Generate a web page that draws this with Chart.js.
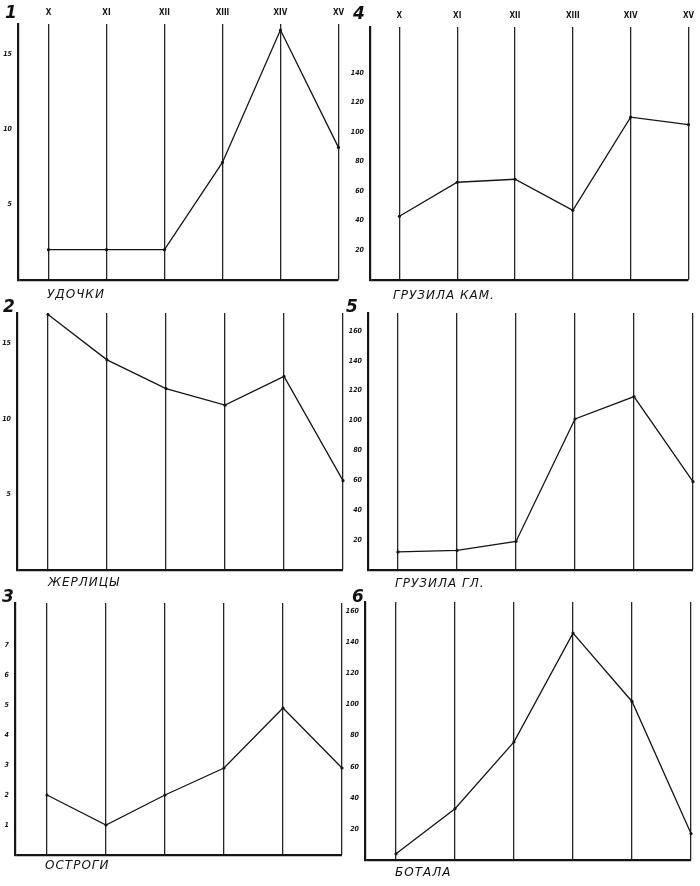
<!DOCTYPE html>
<html lang="ru">
<head>
<meta charset="utf-8">
<script src="https://cdn.jsdelivr.net/npm/chart.js@4.4.0/dist/chart.umd.min.js"></script>
<style>
  body { margin: 0; background: #fff; }
  #page { position: relative; width: 700px; height: 886px; overflow: hidden; background: #fff; }
  .box { position: absolute; }
  .lbl { position: absolute; font-family: "DejaVu Sans", sans-serif; font-style: italic; font-size: 12px;
         letter-spacing: 1px; color: #111; white-space: nowrap; }
  .num { position: absolute; font-family: "DejaVu Sans", sans-serif; font-style: italic; font-weight: bold;
         font-size: 17px; color: #111; }
</style>
</head>
<body>
<div id="page">
  <div class="box" style="left:0;top:0;width:350px;height:290px"><canvas id="c1"></canvas></div>
  <div class="box" style="left:0;top:290px;width:350px;height:290px"><canvas id="c2"></canvas></div>
  <div class="box" style="left:0;top:580px;width:350px;height:306px"><canvas id="c3"></canvas></div>
  <div class="box" style="left:340px;top:0;width:360px;height:290px"><canvas id="c4"></canvas></div>
  <div class="box" style="left:340px;top:290px;width:360px;height:290px"><canvas id="c5"></canvas></div>
  <div class="box" style="left:340px;top:580px;width:360px;height:306px"><canvas id="c6"></canvas></div>

  <div class="num" style="left:5px;top:2px">1</div>
  <div class="num" style="left:353px;top:3px">4</div>
  <div class="num" style="left:3px;top:296px">2</div>
  <div class="num" style="left:346px;top:296px">5</div>
  <div class="num" style="left:2px;top:586px">3</div>
  <div class="num" style="left:352px;top:586px">6</div>

  <div class="lbl" style="left:47px;top:287px">УДОЧКИ</div>
  <div class="lbl" style="left:393px;top:288px">ГРУЗИЛА КАМ.</div>
  <div class="lbl" style="left:48px;top:575px">ЖЕРЛИЦЫ</div>
  <div class="lbl" style="left:395px;top:576px">ГРУЗИЛА ГЛ.</div>
  <div class="lbl" style="left:45px;top:858px">ОСТРОГИ</div>
  <div class="lbl" style="left:395px;top:865px">БОТАЛА</div>
</div>

<script>
// centuries (X..XV)
const centuries = [10, 11, 12, 13, 14, 15];
const romanLabels = ["X", "XI", "XII", "XIII", "XIV", "XV"];

// values per panel
const udochki = [2, 2, 2, 7.8, 16.6, 8.8];
const zherlitsy = [16.9, 13.9, 12.0, 10.9, 12.8, 5.9];
const ostrogi = [2, 1, 2, 2.9, 4.9, 2.9];
const gruzilaKam = [43, 66, 68, 47, 110, 105];
const gruzilaGl = [12, 13, 19, 101, 116, 59];
const botala = [4, 33, 76, 146, 102, 17];

// y tick labels per panel
const ticks1 = [5, 10, 15];
const ticks2 = [5, 10, 15];
const ticks3 = [1, 2, 3, 4, 5, 6, 7];
const ticks4 = [20, 40, 60, 80, 100, 120, 140];
const ticks5 = [20, 40, 60, 80, 100, 120, 140, 160];
const ticks6 = [20, 40, 60, 80, 100, 120, 140, 160];

const ink = "#151515";
const step = 59; // px between century lines

// area: y axis left (l), top (t), bottom (b), first century line (x0), all in canvas px
function draw(id, values, yMax, yTicks, showRoman, area) {
    const canvas = document.getElementById(id);
    const W = canvas.parentNode.clientWidth, H = canvas.parentNode.clientHeight;
    const right = area.x0 + 5 * step;
    const xMin = 10 - (area.x0 - area.l) / step;

    new Chart(canvas.getContext("2d"), {
        type: "line",
        data: {
            datasets: [{
                data: values.map((v, i) => ({ x: centuries[i], y: v })),
                borderColor: ink,
                borderWidth: 1.3,
                pointRadius: 1.6,
                pointBackgroundColor: ink,
                pointBorderWidth: 0,
                tension: 0,
                clip: false
            }]
        },
        options: {
            animation: false,
            responsive: true,
            maintainAspectRatio: false,
            layout: { padding: { left: 0, top: 0, right: W - right, bottom: H - area.b } },
            plugins: { legend: { display: false }, tooltip: { enabled: false } },
            scales: {
                x: {
                    type: "linear",
                    position: "top",
                    min: xMin,
                    max: 15,
                    afterBuildTicks: s => { s.ticks = centuries.map(v => ({ value: v })); },
                    afterFit: s => { s.height = area.t; },
                    ticks: {
                        display: showRoman,
                        padding: 6,
                        color: ink,
                        font: { family: "DejaVu Sans Condensed", size: 8, weight: "bold" },
                        callback: (v, i) => romanLabels[i]
                    },
                    grid: { color: "#262626", lineWidth: 1.3, drawTicks: false },
                    border: { display: false }
                },
                y: {
                    min: 0,
                    max: yMax,
                    afterBuildTicks: s => { s.ticks = [0].concat(yTicks).map(v => ({ value: v })); },
                    afterFit: s => { s.width = area.l; },
                    ticks: {
                        padding: 6,
                        color: ink,
                        font: { family: "DejaVu Sans Condensed", size: 7, style: "italic", weight: "bold" },
                        callback: v => (v === 0 ? "" : v)
                    },
                    grid: {
                        drawTicks: false,
                        color: c => (c.tick && c.tick.value === 0 ? ink : "rgba(0,0,0,0)"),
                        lineWidth: c => (c.tick && c.tick.value === 0 ? 2.2 : 0)
                    },
                    border: { display: true, color: ink, width: 2.2 }
                }
            }
        }
    });
}

draw("c1", udochki, 17, ticks1, true, { l: 18, t: 24, b: 281, x0: 49 });
draw("c2", zherlitsy, 17, ticks2, false, { l: 17, t: 23, b: 280, x0: 48 });
draw("c3", ostrogi, 8.4, ticks3, false, { l: 15, t: 23, b: 275, x0: 47 });
draw("c4", gruzilaKam, 171, ticks4, true, { l: 30, t: 27, b: 284, x0: 60 });
draw("c5", gruzilaGl, 172, ticks5, false, { l: 28, t: 23, b: 281, x0: 58 });
draw("c6", botala, 166, ticks6, false, { l: 25, t: 22, b: 280, x0: 56 });
</script>
</body>
</html>
